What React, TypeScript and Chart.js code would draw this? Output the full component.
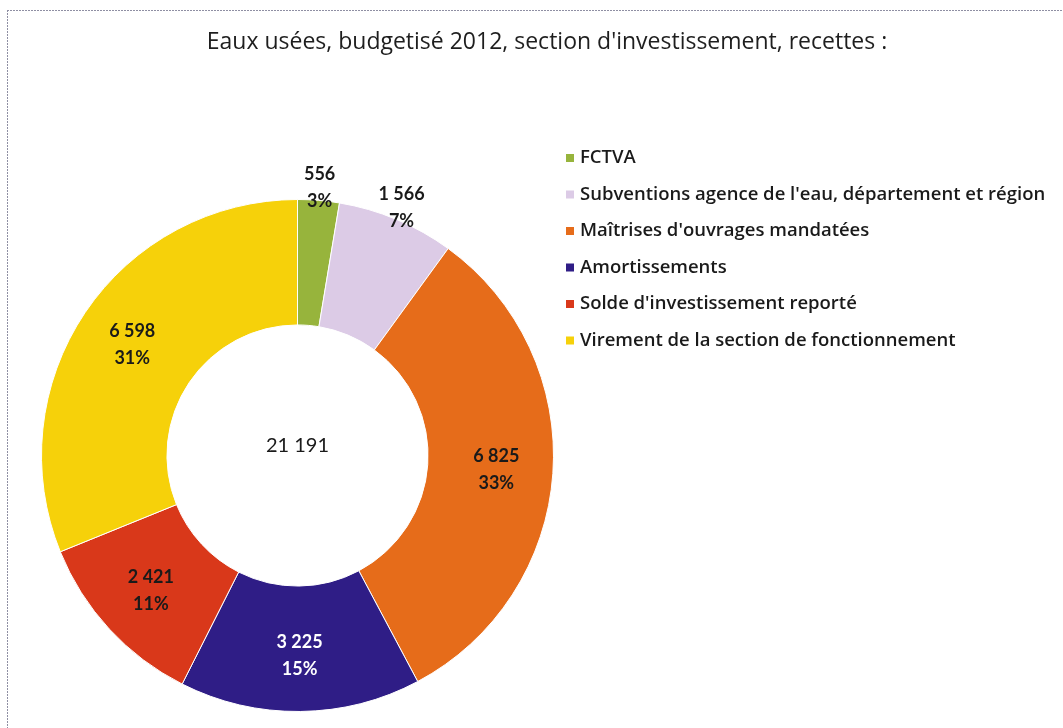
import React, { useEffect, useRef } from "react";
import { Chart, registerables } from "chart.js";

Chart.register(...registerables);

const titleText = "Eaux usées, budgetisé 2012, section d'investissement, recettes :";
const categories = [
  "FCTVA",
  "Subventions agence de l'eau, département et région",
  "Maîtrises d'ouvrages mandatées",
  "Amortissements",
  "Solde d'investissement reporté",
  "Virement de la section de fonctionnement",
];
const values = [556, 1566, 6825, 3225, 2421, 6598];
const percentLabels = [3, 7, 33, 15, 11, 31];
const colors = ["#97B43C", "#DCCBE6", "#E66C1A", "#2F1D86", "#D9381A", "#F6D10A"];

const FONT = "Lato, 'Open Sans', sans-serif";
const FONT2 = "'Open Sans', Lato, sans-serif";

function fmt(n: number): string {
  return String(n).replace(/\B(?=(\d{3})+(?!\d))/g, " ");
}

function isDark(hex: string): boolean {
  const r = parseInt(hex.slice(1, 3), 16);
  const g = parseInt(hex.slice(3, 5), 16);
  const b = parseInt(hex.slice(5, 7), 16);
  return 0.299 * r + 0.587 * g + 0.114 * b < 100;
}

const overlayPlugin = {
  id: "overlay",
  beforeDraw(chart: any) {
    const ctx = chart.ctx;
    ctx.save();
    ctx.fillStyle = "#ffffff";
    ctx.fillRect(0, 0, chart.width, chart.height);
    ctx.strokeStyle = "#8f8fa3";
    ctx.lineWidth = 1;
    ctx.setLineDash([2, 1]);
    ctx.beginPath();
    ctx.moveTo(7, 10.5);
    ctx.lineTo(chart.width, 10.5);
    ctx.moveTo(7.5, 10);
    ctx.lineTo(7.5, chart.height);
    ctx.stroke();
    ctx.setLineDash([]);
    // title
    ctx.fillStyle = "#1e1e1e";
    ctx.font = `23px ${FONT2}`;
    ctx.textAlign = "center";
    ctx.textBaseline = "middle";
    ctx.fillText(titleText, 547, 42);
    ctx.restore();
  },
  afterDatasetsDraw(chart: any) {
    const ctx = chart.ctx;
    const meta = chart.getDatasetMeta(0);
    const ds = chart.data.datasets[0];
    const total = (ds.data as number[]).reduce((a, b) => a + b, 0);
    ctx.save();
    ctx.textAlign = "center";
    ctx.textBaseline = "middle";
    meta.data.forEach((arc: any, i: number) => {
      const { x, y, startAngle, endAngle, innerRadius, outerRadius } = arc.getProps(
        ["x", "y", "startAngle", "endAngle", "innerRadius", "outerRadius"],
        true
      );
      const mid = (startAngle + endAngle) / 2;
      const frac = (ds.data[i] as number) / total;
      const outside = frac < 0.08;
      const r = outside ? outerRadius + 13 : (innerRadius + outerRadius) / 2 + 6;
      const cx = x + Math.cos(mid) * r;
      const cy = y + Math.sin(mid) * r;
      ctx.fillStyle = !outside && isDark(colors[i]) ? "#ffffff" : "#1a1a1a";
      ctx.font = `bold 18px ${FONT}`;
      ctx.fillText(fmt(ds.data[i] as number), cx, cy - 13);
      ctx.fillText(percentLabels[i] + "%", cx, cy + 14);
    });
    // center total
    const a0 = meta.data[0];
    ctx.fillStyle = "#1a1a1a";
    ctx.font = `20px ${FONT}`;
    ctx.fillText(fmt(total), a0.x, a0.y - 10);

    // legend
    const legendX = 566;
    const legendY = 158;
    const rowH = 36.5;
    chart.data.labels.forEach((lab: string, i: number) => {
      const yy = legendY + i * rowH;
      ctx.fillStyle = colors[i];
      ctx.fillRect(legendX, yy - 4, 8, 8);
      ctx.fillStyle = "#1a1a1a";
      ctx.font = `600 18.5px ${FONT2}`;
      ctx.textAlign = "left";
      ctx.fillText(lab, legendX + 14, yy);
    });
    ctx.restore();
  },
};

export default function App() {
  const ref = useRef<HTMLCanvasElement | null>(null);
  useEffect(() => {
    if (!ref.current) return;
    const chart = new Chart(ref.current, {
      type: "doughnut",
      data: {
        labels: categories,
        datasets: [
          {
            data: values,
            backgroundColor: colors,
            borderColor: "#ffffff",
            borderWidth: 1,
          },
        ],
      },
      options: {
        animation: false,
        responsive: false,
        cutout: "51%",
        layout: { padding: { left: 41, right: 509, top: 199, bottom: 16 } },
        plugins: {
          legend: { display: false },
          title: { display: false },
          tooltip: { enabled: false },
        },
      },
      plugins: [overlayPlugin],
    });
    return () => chart.destroy();
  }, []);
  return (
    <div style={{ position: "absolute", left: 0, top: 0, width: 1063, height: 728, background: "#fff" }}>
      <canvas ref={ref} width={1063} height={728} style={{ display: "block" }} />
    </div>
  );
}
